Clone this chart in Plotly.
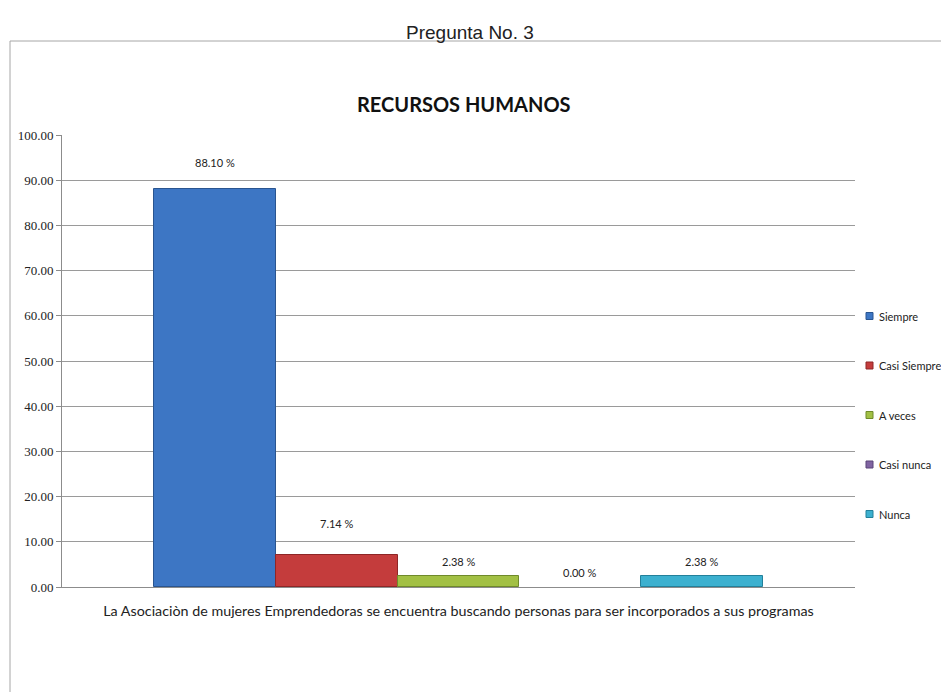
import plotly.graph_objects as go

# Survey answers (percent of respondents)
categories = ["Siempre", "Casi Siempre", "A veces", "Casi nunca", "Nunca"]
values = [88.10, 7.14, 2.38, 0.00, 2.38]
question = ("La Asociaciòn de mujeres Emprendedoras se encuentra buscando "
            "personas para ser incorporados a sus programas")
y_ticks = [0, 10, 20, 30, 40, 50, 60, 70, 80, 90, 100]

# Styling
fill_colors = ["#3d76c4", "#c43c3c", "#a2c044", "#8064a2", "#3cb0cf"]
edge_colors = ["#2a5590", "#8e2626", "#6f8a2a", "#5a4578", "#23809a"]
label_lift = [26, 31, 15, 15, 15]  # pixel gap between bar top and its value label

W, H = 941, 692
M_L, M_R, M_T, M_B = 62, 86, 135, 105
plot_w = W - M_L - M_R
plot_h = H - M_T - M_B


def px_x(p):
    return (p - M_L) / plot_w


def px_y(p):
    return (H - M_B - p) / plot_h


fig = go.Figure()
for i, (name, val) in enumerate(zip(categories, values)):
    fig.add_trace(go.Bar(
        x=[name], y=[val], name=name,
        marker=dict(color=fill_colors[i],
                    line=dict(color=edge_colors[i], width=1 if val > 0 else 0)),
        width=1.0, showlegend=False,
    ))
    fig.add_annotation(
        x=name, y=val, yshift=label_lift[i], text=f"{val:.2f} %",
        showarrow=False, yanchor="middle",
        font=dict(family="Lato, sans-serif", size=11, color="#222222"),
    )

# Legend drawn as small squares with labels, stacked down the right side
legend_top, legend_step = 316, 49.5
for i, name in enumerate(categories):
    cy = legend_top + i * legend_step
    fig.add_shape(type="rect", xref="paper", yref="paper",
                  x0=px_x(866), x1=px_x(873), y0=px_y(cy + 3.5), y1=px_y(cy - 3.5),
                  fillcolor=fill_colors[i], line=dict(color=edge_colors[i], width=1))
    fig.add_annotation(x=px_x(877), y=px_y(cy), xref="paper", yref="paper",
                       text=name, showarrow=False, xanchor="left", yanchor="middle",
                       font=dict(family="Lato, sans-serif", size=11, color="#222222"))

fig.update_layout(
    width=W, height=H,
    margin=dict(l=M_L, r=M_R, t=M_T, b=M_B, autoexpand=False),
    paper_bgcolor="white", plot_bgcolor="white",
    barmode="overlay", bargap=0,
    showlegend=False,
    xaxis=dict(
        type="category", categoryorder="array", categoryarray=categories,
        range=[-1.26, 5.26], showticklabels=False, ticks="",
        showline=True, linecolor="#8c8c8c", linewidth=1, showgrid=False,
        title=dict(text=question, standoff=18,
                   font=dict(family="Lato, sans-serif", size=14.3, color="#222222")),
        fixedrange=True,
    ),
    yaxis=dict(
        range=[0, 100], tickvals=y_ticks, tickformat=".2f",
        showline=True, linecolor="#8c8c8c", linewidth=1,
        ticks="outside", ticklen=5, tickcolor="#8c8c8c",
        showgrid=True, gridcolor="#9a9a9a", gridwidth=1, zeroline=False,
        tickfont=dict(family="Liberation Serif, serif", size=13, color="#222222"),
    ),
)

# Chart frame
fig.add_shape(type="rect", xref="paper", yref="paper",
              x0=px_x(10), x1=px_x(960), y0=px_y(720), y1=px_y(41),
              line=dict(color="#a6a6a6", width=1), fillcolor="rgba(0,0,0,0)",
              layer="below")

# Page heading and chart title
fig.add_annotation(x=px_x(470), y=px_y(20), xref="paper", yref="paper",
                   text="Pregunta No. 3", showarrow=False,
                   font=dict(family="Liberation Sans Narrow, Arial Narrow, sans-serif",
                             size=19, color="#222222"))
fig.add_annotation(x=px_x(464), y=px_y(90), xref="paper", yref="paper",
                   text="<b>RECURSOS HUMANOS</b>", showarrow=False,
                   font=dict(family="Lato, sans-serif", size=20, color="#111111"))

fig.write_html("out.html")
